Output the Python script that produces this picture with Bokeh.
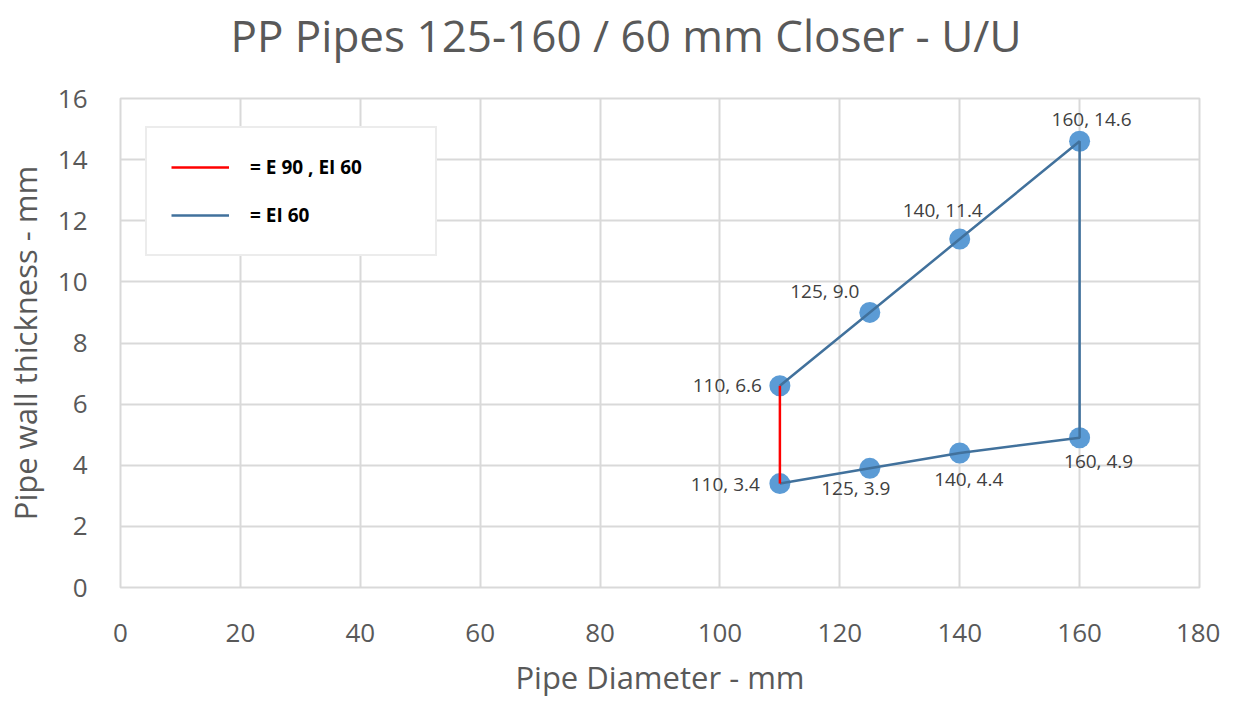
from bokeh.plotting import figure
from bokeh.models import ColumnDataSource, FixedTicker, Legend, LegendItem, Title
from bokeh.core.properties import value
from bokeh.embed import file_html
from bokeh.resources import INLINE

# ---- data ----
title_text = "PP Pipes 125-160 / 60 mm Closer - U/U"
diameter = [110, 125, 140, 160, 160, 140, 125, 110]
thickness = [6.6, 9.0, 11.4, 14.6, 4.9, 4.4, 3.9, 3.4]
red_diameter = [110, 110]
red_thickness = [3.4, 6.6]
x_ticks = [0, 20, 40, 60, 80, 100, 120, 140, 160, 180]
y_ticks = [0, 2, 4, 6, 8, 10, 12, 14, 16]
legend_labels = ["= E 90 , EI 60", "= EI 60"]

# ---- label placement (style, screen px) ----
label_dx = [-18, -45, -17, 12, 19, 9, -14, -20]
label_dy = [-1, -21, -29, -22, 23, 26, 20, 0]
label_align = ["right", "center", "center", "center", "center", "center", "center", "right"]

FONT = "Open Sans"
GRAY = "#595959"
GRID = "#d9d9d9"

p = figure(width=1220, height=700, output_backend="svg", toolbar_location=None,
           x_range=(0, 180), y_range=(0, 16),
           min_border_left=120, min_border_right=21, min_border_top=97, min_border_bottom=113)

p.title.text = title_text
p.title.align = "left"
p.title.vertical_align = "top"
p.title.text_font = FONT
p.title.text_font_size = "44px"
p.title.text_font_style = "normal"
p.title.text_color = GRAY
p.title.offset = 110
p.title.standoff = 8

# empty spacer between title and frame
p.add_layout(Title(text=" ", text_font_size="10px", standoff=15), "above")

for ax in (p.xaxis[0], p.yaxis[0]):
    ax.axis_line_color = None
    ax.major_tick_line_color = None
    ax.minor_tick_line_color = None
    ax.major_label_text_font = FONT
    ax.major_label_text_font_size = "26px"
    ax.major_label_text_color = GRAY
    ax.axis_label_text_font = FONT
    ax.axis_label_text_font_size = "31px"
    ax.axis_label_text_font_style = "normal"
    ax.axis_label_text_color = GRAY

p.xaxis.major_label_standoff = 30
p.yaxis.major_label_standoff = 27
p.xaxis.ticker = FixedTicker(ticks=x_ticks)
p.yaxis.ticker = FixedTicker(ticks=y_ticks)
p.xaxis.axis_label = "Pipe Diameter - mm"
p.yaxis.axis_label = "Pipe wall thickness - mm"
p.xaxis.axis_label_standoff = 11
p.yaxis.axis_label_standoff = 9

p.xgrid.grid_line_color = GRID
p.ygrid.grid_line_color = GRID
p.xgrid.grid_line_width = 2
p.ygrid.grid_line_width = 2
p.outline_line_color = GRID
p.outline_line_width = 2

src = ColumnDataSource(dict(
    x=diameter, y=thickness,
    label=[f"{a}, {b:.1f}" for a, b in zip(diameter, thickness)],
    dx=label_dx, dy=label_dy, align=label_align,
))

p.scatter("x", "y", source=src, size=21, fill_color="#5b9bd5", line_color=None)
blue = p.line("x", "y", source=src, line_color="#41719c", line_width=2.5)
red = p.line(red_diameter, red_thickness, line_color="#ff0000", line_width=2.5)

p.text("x", "y", text="label", source=src, x_offset="dx", y_offset="dy",
       text_align="align", text_baseline="middle",
       text_font=value(FONT), text_font_size="19px", text_color="#404040")

legend = Legend(items=[LegendItem(label=legend_labels[0], renderers=[red]),
                       LegendItem(label=legend_labels[1], renderers=[blue])],
                location=(25, 331), orientation="vertical",
                padding=24, spacing=18, margin=0,
                glyph_width=58, glyph_height=30, label_height=30,
                label_standoff=21, label_width=161,
                label_text_font=FONT, label_text_font_size="19px",
                label_text_font_style="bold", label_text_color="#000000",
                border_line_color=GRID, border_line_width=2,
                background_fill_color="white", background_fill_alpha=1.0)
p.add_layout(legend, "center")

open("out.html", "w").write(file_html(p, INLINE))
